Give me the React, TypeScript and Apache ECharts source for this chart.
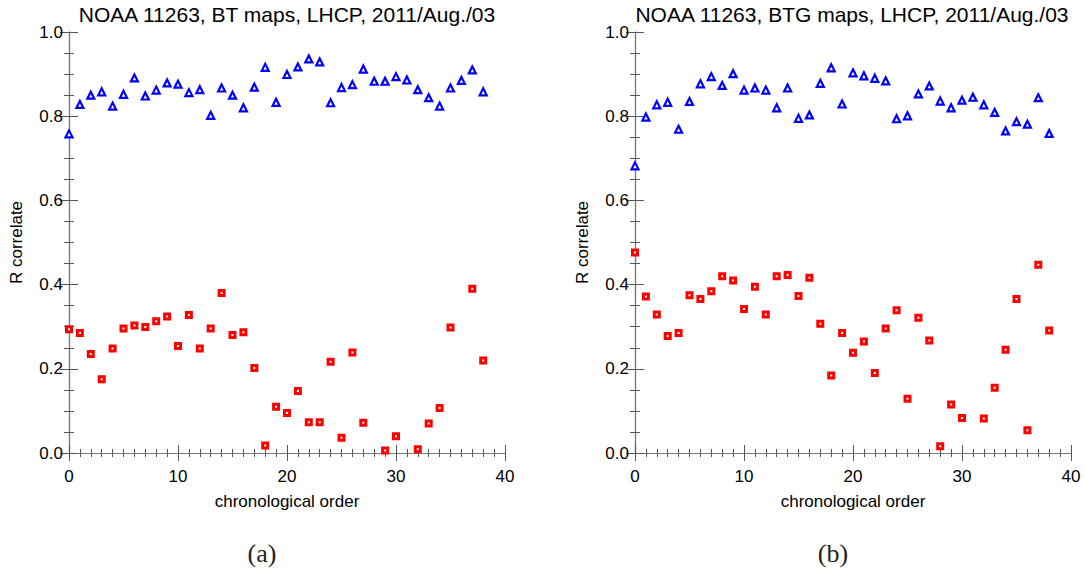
import React, { useEffect, useRef } from "react";
import * as echarts from "echarts";

const chronoIndex: number[] = Array.from({ length: 39 }, (_, i) => i);

// (a) BT maps
const btBlue: (number | null)[] = [
  0.758, 0.828, 0.85, 0.858, 0.824, 0.852, 0.891, 0.848, 0.862, 0.879,
  0.876, 0.856, 0.863, 0.802, 0.867, 0.85, 0.82, 0.869, 0.916, 0.833,
  0.899, 0.917, 0.936, 0.929, 0.832, 0.868, 0.875, 0.912, 0.883, 0.883,
  0.894, 0.886, 0.863, 0.844, 0.824, 0.867, 0.885, 0.91, 0.858,
];
const btRed: (number | null)[] = [
  0.294, 0.285, 0.235, 0.175, 0.248, 0.296, 0.303, 0.299, 0.313, 0.324,
  0.254, 0.328, 0.248, 0.296, 0.38, 0.28, 0.287, 0.202, 0.018, 0.11,
  0.095, 0.147, 0.073, 0.073, 0.217, 0.036, 0.239, 0.072, null, 0.006,
  0.04, null, 0.009, 0.07, 0.107, 0.298, null, 0.39, 0.22,
];

// (b) BTG maps
const btgBlue: (number | null)[] = [
  0.682, 0.798, 0.827, 0.833, 0.769, 0.835, 0.877, 0.894, 0.873, 0.901,
  0.862, 0.867, 0.862, 0.82, 0.867, 0.795, 0.803, 0.878, 0.915, 0.829,
  0.903, 0.896, 0.89, 0.884, 0.794, 0.801, 0.853, 0.872, 0.836, 0.82,
  0.838, 0.845, 0.827, 0.809, 0.765, 0.787, 0.781, 0.844, 0.759,
];
const btgRed: (number | null)[] = [
  0.476, 0.372, 0.329, 0.278, 0.285, 0.375, 0.366, 0.384, 0.42, 0.41,
  0.342, 0.395, 0.329, 0.42, 0.423, 0.373, 0.416, 0.307, 0.184, 0.285,
  0.238, 0.265, 0.19, 0.296, 0.339, 0.129, 0.321, 0.267, 0.016, 0.115,
  0.083, null, 0.082, 0.155, 0.245, 0.366, 0.054, 0.447, 0.291,
];

const titles: string[] = [
  "NOAA 11263, BT maps, LHCP, 2011/Aug./03",
  "NOAA 11263, BTG maps, LHCP, 2011/Aug./03",
];
const panelLabels: string[] = ["(a)", "(b)"];
const xName = "chronological order";
const yName = "R correlate";

const FONT = "'Liberation Sans', Arial, sans-serif";

function toPoints(vals: (number | null)[]): number[][] {
  const out: number[][] = [];
  vals.forEach((v, i) => {
    if (v !== null) out.push([chronoIndex[i], v]);
  });
  return out;
}

export default function App() {
  const ref = useRef<HTMLDivElement>(null);
  useEffect(() => {
    if (!ref.current) return;
    const chart = echarts.init(ref.current, null, { renderer: "svg" });

    const grids = [
      { left: 69, top: 32, width: 436, height: 421 },
      { left: 635, top: 32, width: 436, height: 421 },
    ];
    const axisLine = { show: true, lineStyle: { color: "#7a7a7a", width: 1.2 } };
    const xCommon = (gi: number, pos: "bottom" | "top") => ({
      type: "value",
      gridIndex: gi,
      position: pos,
      min: 0,
      max: 40,
      interval: 10,
      axisLine,
      axisTick: { show: true, inside: true, length: 8, lineStyle: { color: "#555", width: 1 } },
      minorTick: { show: true, splitNumber: 10, length: 4, lineStyle: { color: "#555", width: 1 } },
      splitLine: { show: false },
      axisLabel: {
        show: pos === "bottom",
        margin: 15,
        fontFamily: FONT,
        fontSize: 17,
        color: "#000",
      },
      name: pos === "bottom" ? xName : "",
      nameLocation: "middle",
      nameGap: 40,
      nameTextStyle: { fontFamily: FONT, fontSize: 17, color: "#000" },
    });
    const yCommon = (gi: number, pos: "left" | "right") => ({
      type: "value",
      gridIndex: gi,
      position: pos,
      min: 0,
      max: 1,
      interval: 0.2,
      axisLine,
      axisTick: { show: true, inside: true, length: 9, lineStyle: { color: "#555", width: 1 } },
      minorTick: { show: true, splitNumber: 4, length: 5, lineStyle: { color: "#555", width: 1 } },
      splitLine: { show: false },
      axisLabel: {
        show: pos === "left",
        margin: 6,
        fontFamily: FONT,
        fontSize: 17,
        color: "#000",
        formatter: (v: number) => v.toFixed(1),
      },
      name: pos === "left" ? yName : "",
      nameLocation: "middle",
      nameGap: 44,
      nameRotate: 90,
      nameTextStyle: { fontFamily: FONT, fontSize: 17, color: "#000" },
    });

    const triStyle = { color: "#ffffff", borderColor: "#0000ff", borderWidth: 2.2, opacity: 1 };
    const sqStyle = { color: "#ffffff", borderColor: "#ff0000", borderWidth: 3, opacity: 1 };

    const mk = (data: number[][], idx: number, tri: boolean) => ({
      type: "scatter",
      xAxisIndex: idx * 2,
      yAxisIndex: idx * 2,
      data,
      symbol: tri ? "triangle" : "rect",
      symbolSize: tri ? 7 : 5,
      itemStyle: tri ? triStyle : sqStyle,
      clip: false,
    });

    chart.setOption({
      animation: false,
      backgroundColor: "#ffffff",
      grid: grids,
      xAxis: [xCommon(0, "bottom"), xCommon(0, "top"), xCommon(1, "bottom"), xCommon(1, "top")],
      yAxis: [yCommon(0, "left"), yCommon(0, "right"), yCommon(1, "left"), yCommon(1, "right")],
      series: [
        mk(toPoints(btBlue), 0, true),
        mk(toPoints(btRed), 0, false),
        mk(toPoints(btgBlue), 1, true),
        mk(toPoints(btgRed), 1, false),
      ],
      graphic: [
        { type: "text", x: 287, y: 14, style: { text: titles[0], font: `21px ${FONT}`, fill: "#000", textAlign: "center", textVerticalAlign: "middle" } },
        { type: "text", x: 852, y: 14, style: { text: titles[1], font: `21px ${FONT}`, fill: "#000", textAlign: "center", textVerticalAlign: "middle" } },
        { type: "text", x: 262, y: 553, style: { text: panelLabels[0], font: `26px 'Liberation Serif', 'DejaVu Serif', serif`, fill: "#222", textAlign: "center", textVerticalAlign: "middle" } },
        { type: "text", x: 833, y: 553, style: { text: panelLabels[1], font: `26px 'Liberation Serif', 'DejaVu Serif', serif`, fill: "#222", textAlign: "center", textVerticalAlign: "middle" } },
      ],
    });
    return () => chart.dispose();
  }, []);
  return (
    <div
      ref={ref}
      style={{ position: "fixed", left: 0, top: 0, width: 1085, height: 571, background: "#fff" }}
    />
  );
}
